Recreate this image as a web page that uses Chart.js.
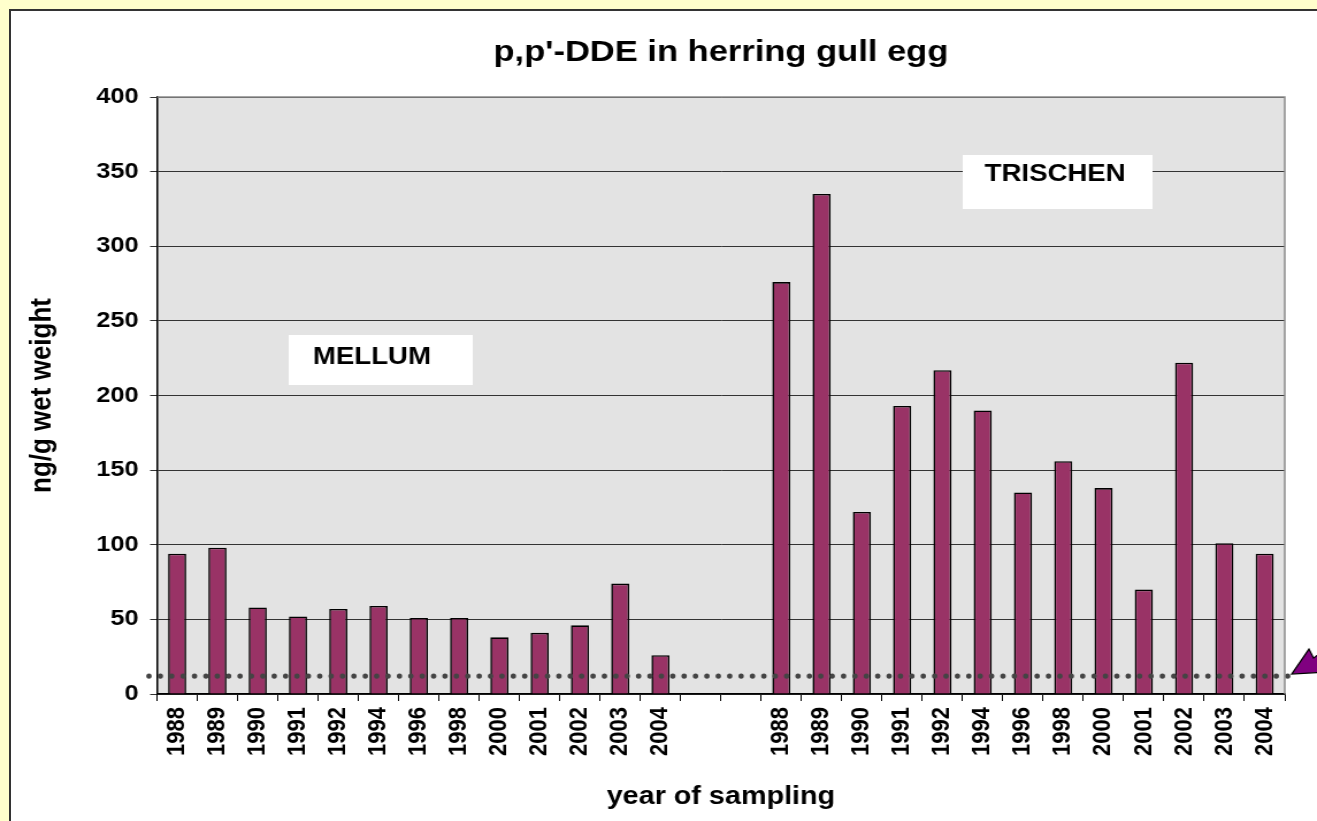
<!DOCTYPE html>
<html>
<head>
<meta charset="utf-8">
<script src="https://cdn.jsdelivr.net/npm/chart.js@4/dist/chart.umd.min.js"></script>
<style>
  body { margin: 0; background: #ffffcc; overflow: hidden; }
  #frame { position: absolute; left: 9px; top: 9px; width: 1330px; height: 840px; background: #fff; border: 2px solid #333; }
  #wrap { position: absolute; left: 0; top: 0; width: 1145px; height: 821px; transform: scaleX(1.1502); transform-origin: 0 0; }
</style>
</head>
<body>
<div id="frame"></div>
<div id="wrap"><canvas id="chart" width="1145" height="821"></canvas></div>
<script>
// the original chart is stretched sideways, so we draw narrow and scale the canvas
const STRETCH = 1.1502;
const FONT = "'Liberation Sans', Arial, sans-serif";

const years = ['1988', '1989', '1990', '1991', '1992', '1994', '1996', '1998', '2000', '2001', '2002', '2003', '2004'];
const mellum = [94, 98, 58, 52, 57, 59, 51, 51, 38, 41, 46, 74, 26];
const trischen = [276, 335, 122, 193, 217, 190, 135, 156, 138, 70, 222, 101, 94];
const gap = ['', ''];
const referenceLevel = 12;
const yTicks = [0, 50, 100, 150, 200, 250, 300, 350, 400];

const labels = [...years, ...gap, ...years];
const values = [...mellum, ...gap.map(() => null), ...trischen];

const plotBackground = {
    id: 'plotBackground',
    beforeDraw(chart) {
        const { ctx, chartArea: a } = chart;
        ctx.save();
        ctx.fillStyle = '#e3e3e3';
        ctx.fillRect(a.left, a.top, a.right - a.left, a.bottom - a.top);
        ctx.restore();
    },
    afterDraw(chart) {
        const { ctx, chartArea: a } = chart;
        ctx.save();
        ctx.strokeStyle = '#8a8a8a';
        ctx.lineWidth = 1.5;
        ctx.beginPath();
        ctx.moveTo(a.left, a.top);
        ctx.lineTo(a.right, a.top);
        ctx.lineTo(a.right, a.bottom);
        ctx.stroke();
        ctx.restore();
    }
};

// dotted reference line and the arrow pointing at it
const referenceLine = {
    id: 'referenceLine',
    afterDatasetsDraw(chart) {
        const { ctx, chartArea: a, scales } = chart;
        const y = scales.y.getPixelForValue(referenceLevel);
        ctx.save();
        ctx.fillStyle = '#444';
        for (let x = a.left - 7; x <= a.right + 3; x += 9.9) {
            ctx.beginPath();
            ctx.ellipse(x, y, 2.7 / STRETCH, 2.7, 0, 0, Math.PI * 2);
            ctx.fill();
        }
        const tx = a.right + 6;
        ctx.beginPath();
        ctx.moveTo(tx, y - 2);
        ctx.lineTo(tx + 15, y - 27);
        ctx.lineTo(tx + 19, y - 18);
        ctx.lineTo(tx + 26, y - 24);
        ctx.lineTo(tx + 30, y - 4);
        ctx.closePath();
        ctx.fillStyle = '#800080';
        ctx.fill();
        ctx.strokeStyle = '#000';
        ctx.lineWidth = 1.2;
        ctx.stroke();
        ctx.restore();
    }
};

const siteLabels = {
    id: 'siteLabels',
    afterDatasetsDraw(chart) {
        const { ctx } = chart;
        const boxes = [
            { text: 'MELLUM', x: 251, y: 335, w: 160, h: 50, tx: 272, ty: 357 },
            { text: 'TRISCHEN', x: 837, y: 155, w: 165, h: 54, tx: 856, ty: 174 }
        ];
        ctx.save();
        boxes.forEach(b => {
            ctx.fillStyle = '#fff';
            ctx.fillRect(b.x, b.y, b.w, b.h);
            ctx.fillStyle = '#000';
            ctx.font = 'bold 24px ' + FONT;
            ctx.textBaseline = 'middle';
            ctx.fillText(b.text, b.tx, b.ty);
        });
        ctx.restore();
    }
};

new Chart(document.getElementById('chart'), {
    type: 'bar',
    data: {
        labels: labels,
        datasets: [{
            data: values,
            backgroundColor: '#993366',
            borderColor: '#000',
            borderWidth: 1.6,
            categoryPercentage: 1,
            barPercentage: 0.45
        }]
    },
    options: {
        responsive: false,
        maintainAspectRatio: false,
        devicePixelRatio: 1,
        animation: false,
        layout: { padding: { left: 0, top: 0, right: 28, bottom: 0 } },
        plugins: {
            legend: { display: false },
            tooltip: { enabled: false },
            title: {
                display: true,
                fullSize: false,
                text: "p,p'-DDE in herring gull egg",
                color: '#000',
                font: { family: FONT, size: 30, weight: 'bold' },
                padding: { top: 35, bottom: 26 }
            }
        },
        scales: {
            x: {
                afterFit(scale) { scale.height = 127; },
                grid: { offset: true, drawOnChartArea: false, color: '#000', tickLength: 7 },
                border: { color: '#000', width: 1.5 },
                ticks: {
                    autoSkip: false,
                    minRotation: 90,
                    maxRotation: 90,
                    padding: 6,
                    color: '#000',
                    font: { family: FONT, size: 22, weight: 'bold' }
                },
                title: {
                    display: true,
                    text: 'year of sampling',
                    color: '#000',
                    font: { family: FONT, size: 25, weight: 'bold' },
                    padding: { top: 0, bottom: 9 }
                }
            },
            y: {
                min: yTicks[0],
                max: yTicks[yTicks.length - 1],
                afterFit(scale) { scale.width = 136.5; },
                afterBuildTicks(scale) { scale.ticks = yTicks.map(v => ({ value: v })); },
                grid: { color: '#333', lineWidth: 1, tickLength: 6 },
                border: { color: '#000', width: 1.5 },
                ticks: {
                    padding: 10,
                    color: '#000',
                    font: { family: FONT, size: 22, weight: 'bold' }
                },
                title: {
                    display: true,
                    text: 'ng/g wet weight',
                    color: '#000',
                    font: { family: FONT, size: 26, weight: 'bold' },
                    padding: { top: 21, bottom: 0 }
                }
            }
        }
    },
    plugins: [plotBackground, referenceLine, siteLabels]
});
</script>
</body>
</html>
